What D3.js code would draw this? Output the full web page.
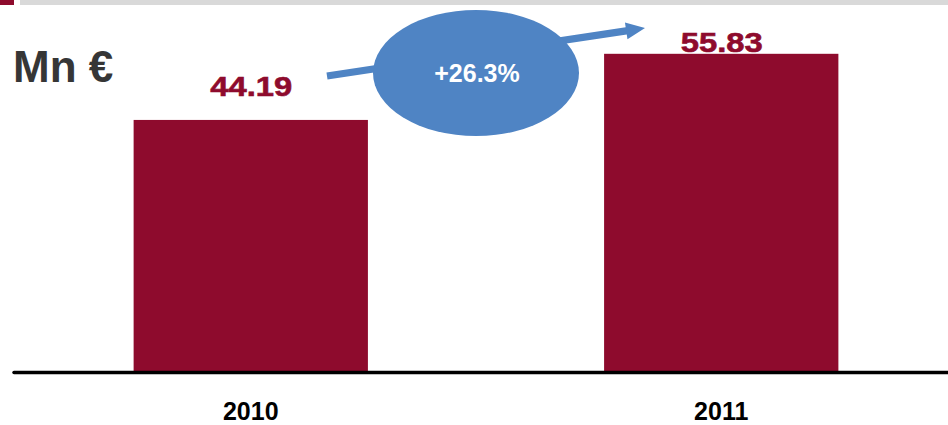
<!DOCTYPE html>
<html>
<head>
<meta charset="utf-8">
<script src="https://cdn.jsdelivr.net/npm/d3@7/dist/d3.min.js"></script>
<style>
  html, body { margin: 0; padding: 0; background: #ffffff; }
  svg { display: block; }
  text { font-family: "Liberation Sans", Arial, Helvetica, sans-serif; font-weight: bold; }
</style>
</head>
<body>
<svg id="chart" width="948" height="425"></svg>
<script>
// Revenue by year, in millions of euros
const years = ["2010", "2011"];
const revenue = [44.19, 55.83];
const unitLabel = "Mn €";

const W = 948, H = 425;
const barColor = "#8E0B2D";
const blue = "#4F84C4";

const svg = d3.select("#chart");

// header strip
svg.append("rect").attr("x", 0).attr("y", 0).attr("width", 14).attr("height", 5).attr("fill", barColor);
svg.append("rect").attr("x", 20).attr("y", 0).attr("width", W - 20).attr("height", 5).attr("fill", "#D9D9D9");

const baseY = 371;
const x = d3.scaleBand().domain(years).range([16, 956]).paddingInner(0.502).paddingOuter(0.25);
const y = d3.scaleLinear().domain([0, 65.3]).range([baseY, 0]);

const data = years.map((yr, i) => ({ year: yr, value: revenue[i] }));

// bars
svg.append("g").selectAll("rect").data(data).join("rect")
  .attr("x", d => x(d.year))
  .attr("y", d => y(d.value))
  .attr("width", x.bandwidth())
  .attr("height", d => baseY - y(d.value))
  .attr("fill", barColor);

// value labels (slightly widened glyphs)
svg.append("g").selectAll("text").data(data).join("text")
  .attr("transform", d => `translate(${x(d.year) + x.bandwidth() / 2 + 0.5},${Math.max(y(d.value) - 24, 51.5)}) scale(1.17,1)`)
  .attr("text-anchor", "middle")
  .attr("font-size", 28)
  .attr("stroke", barColor)
  .attr("stroke-width", 0.6)
  .attr("fill", barColor)
  .text(d => d.value.toFixed(2));

// baseline
svg.append("line")
  .attr("x1", 14).attr("x2", W).attr("y1", 372.5).attr("y2", 372.5)
  .attr("stroke", "#000").attr("stroke-width", 3.5).attr("stroke-linecap", "round");

// category axis
const axis = svg.append("g")
  .attr("transform", `translate(0,${baseY})`)
  .call(d3.axisBottom(x).tickSize(0).tickPadding(0));
axis.select(".domain").remove();
axis.selectAll("text")
  .attr("y", 49).attr("dy", 0)
  .attr("font-size", 25)
  .attr("font-family", "\"Liberation Sans\", Arial, sans-serif")
  .attr("font-weight", "bold")
  .attr("fill", "#000");

// unit label
svg.append("text")
  .attr("x", 13).attr("y", 81.5)
  .attr("font-size", 44)
  .attr("fill", "#363636")
  .text(unitLabel);

// growth arrow
const ax0 = 327, ay0 = 76, ax1 = 645, ay1 = 28;
const ang = Math.atan2(ay1 - ay0, ax1 - ax0) * 180 / Math.PI;
const len = Math.hypot(ax1 - ax0, ay1 - ay0);
const headL = 19, headW = 8.5, shaft = 3.6;
svg.append("path")
  .attr("transform", `translate(${ax0},${ay0}) rotate(${ang})`)
  .attr("d", `M0,${-shaft} L${len - headL},${-shaft} L${len - headL},${-headW} L${len},0 L${len - headL},${headW} L${len - headL},${shaft} L0,${shaft} Z`)
  .attr("fill", blue);

// growth bubble
const growth = (revenue[1] / revenue[0] - 1) * 100;
svg.append("ellipse")
  .attr("cx", 476).attr("cy", 73).attr("rx", 103).attr("ry", 63)
  .attr("fill", blue);
svg.append("text")
  .attr("x", 477).attr("y", 82)
  .attr("text-anchor", "middle")
  .attr("font-size", 25)
  .attr("fill", "#ffffff")
  .text("+" + growth.toFixed(1) + "%");
</script>
</body>
</html>
